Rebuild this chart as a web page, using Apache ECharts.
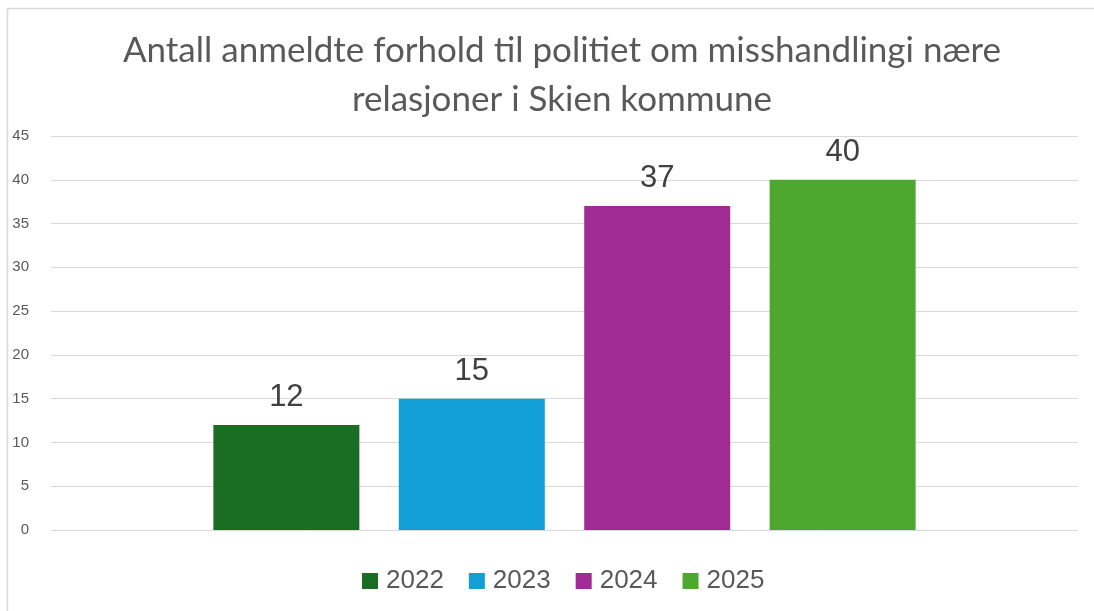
<!DOCTYPE html>
<html>
<head>
<meta charset="utf-8">
<script src="https://cdn.jsdelivr.net/npm/echarts@6/dist/echarts.min.js"></script>
<style>
  html, body { margin: 0; padding: 0; background: #fff; }
  #main { width: 1094px; height: 611px; }
</style>
</head>
<body>
<div id="main"></div>
<script>
// data
var years = ['2022', '2023', '2024', '2025'];
var values = [12, 15, 37, 40];
var colors = ['#1b6d24', '#129fd7', '#a02b93', '#4ea72e'];
var titleText = 'Antall anmeldte forhold til politiet om misshandlingi nære\nrelasjoner i Skien kommune';

var chart = echarts.init(document.getElementById('main'));

var series = years.map(function (y, i) {
  return {
    name: y,
    type: 'bar',
    data: [values[i]],
    barWidth: 146,
    barGap: '27%',
    itemStyle: { color: colors[i] },
    label: {
      show: true,
      position: 'top',
      distance: 12,
      fontSize: 31,
      color: '#404040',
      fontFamily: 'Liberation Sans'
    }
  };
});

chart.setOption({
  animation: false,
  backgroundColor: '#fff',
  graphic: [
    { type: 'line', shape: { x1: 7.5, y1: 8.5, x2: 1094, y2: 8.5 }, style: { stroke: '#d9d9d9', lineWidth: 1.5 }, silent: true },
    { type: 'line', shape: { x1: 7.5, y1: 8.5, x2: 7.5, y2: 611 }, style: { stroke: '#d9d9d9', lineWidth: 1.5 }, silent: true }
  ],
  title: {
    text: titleText,
    left: 557,
    top: 21,
    textAlign: 'center',
    textStyle: {
      fontSize: 35,
      fontWeight: 'normal',
      color: '#595959',
      fontFamily: 'Lato',
      lineHeight: 49
    }
  },
  legend: {
    bottom: 12,
    left: 357,
    itemWidth: 16,
    itemHeight: 16,
    itemGap: 25,
    icon: 'rect',
    textStyle: { fontSize: 26, color: '#595959', fontFamily: 'Liberation Sans', padding: [0, 0, 0, 3] }
  },
  grid: { left: 51, right: 16, top: 136, bottom: 81 },
  xAxis: {
    type: 'category',
    data: [''],
    axisLine: { show: false },
    axisTick: { show: false },
    axisLabel: { show: false }
  },
  yAxis: {
    type: 'value',
    min: 0,
    max: 45,
    interval: 5,
    axisLine: { show: false },
    axisTick: { show: false },
    axisLabel: { fontSize: 15, color: '#595959', margin: 22, fontFamily: 'Liberation Sans' },
    splitLine: { lineStyle: { color: '#d9d9d9', width: 1 } }
  },
  series: series
});
</script>
</body>
</html>
